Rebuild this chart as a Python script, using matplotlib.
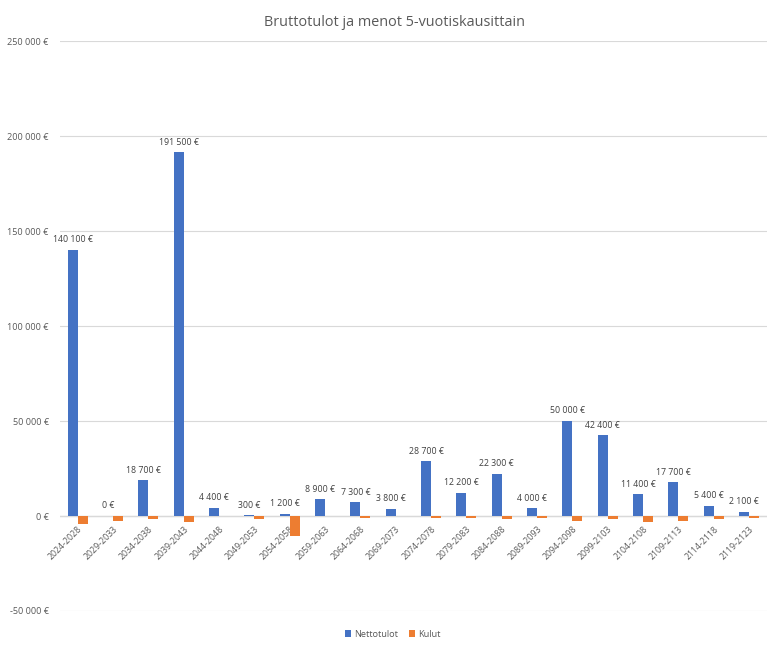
import matplotlib
matplotlib.use("Agg")
import matplotlib.pyplot as plt
import numpy as np

categories = ["2024-2028", "2029-2033", "2034-2038", "2039-2043", "2044-2048",
              "2049-2053", "2054-2058", "2059-2063", "2064-2068", "2069-2073",
              "2074-2078", "2079-2083", "2084-2088", "2089-2093", "2094-2098",
              "2099-2103", "2104-2108", "2109-2113", "2114-2118", "2119-2123"]
nettotulot = [140100, 0, 18700, 191500, 4400, 300, 1200, 8900, 7300, 3800,
              28700, 12200, 22300, 4000, 50000, 42400, 11400, 17700, 5400, 2100]
kulut = [-4000, -2500, -1400, -3000, 0, -1400, -10300, 0, -900, 0,
         -900, -900, -1400, -900, -2500, -1400, -3000, -2500, -1400, -900]
yticks = [-50000, 0, 50000, 100000, 150000, 200000, 250000]


def fmt(v):
    s = f"{abs(int(v)):,}".replace(",", " ")
    return ("-" if v < 0 else "") + s + " €"


plt.rcParams['font.family'] = ['Open Sans', 'DejaVu Sans']
grey = "#595959"

fig = plt.figure(figsize=(7.76, 6.52), dpi=100)
ax = fig.add_axes([0.0773, 0.0629, 0.9107, 0.8741])

x = np.arange(len(categories))
w = 0.28
blue = "#4472C4"
orange = "#ED7D31"
ax.bar(x - w / 2, nettotulot, w, color=blue, label="Nettotulot", zorder=3)
ax.bar(x + w / 2, kulut, w, color=orange, label="Kulut", zorder=3)

for xi, v in zip(x, nettotulot):
    ax.annotate(fmt(v), (xi - w / 2, v), xytext=(0, 4), textcoords="offset points",
                ha="center", va="bottom", fontsize=6.3, color="#404040")

ax.set_xlim(-0.5, len(categories) - 0.5)
ax.set_ylim(-50000, 250000)
ax.set_yticks(yticks)
ax.set_yticklabels([fmt(v) for v in yticks], fontsize=6.6, color=grey)
ax.spines['bottom'].set_position(('data', 0))
ax.set_xticks(x)
ax.set_xticklabels(categories, rotation=45, ha="right", rotation_mode="anchor",
                   fontsize=6.3, color=grey)
ax.tick_params(axis="both", length=0)
ax.tick_params(axis="y", pad=8)
ax.tick_params(axis="x", pad=6)
ax.grid(axis="y", color="#d9d9d9", linewidth=0.8, zorder=0)
ax.axhline(0, color="#d9d9d9", linewidth=1.0, zorder=1)
for s in ax.spines.values():
    s.set_visible(False)

fig.suptitle("Bruttotulot ja menot 5-vuotiskausittain", x=0.509, y=0.977,
             fontsize=10.4, color=grey)
leg = fig.legend(loc="center", bbox_to_anchor=(0.506, 0.027), ncol=2, frameon=False,
                 fontsize=6.6, handlelength=0.7, handleheight=0.7, handletextpad=0.3,
                 columnspacing=1.2)
for t in leg.get_texts():
    t.set_color(grey)

fig.savefig("out.png", dpi=100)
